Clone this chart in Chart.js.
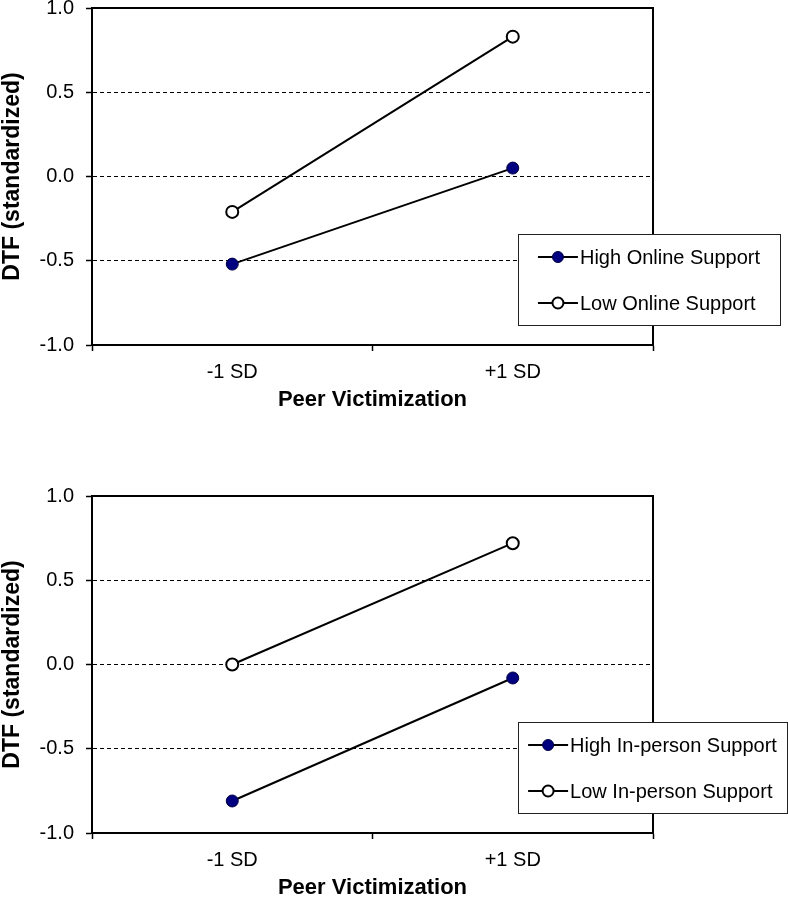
<!DOCTYPE html>
<html>
<head>
<meta charset="utf-8">
<script src="https://cdn.jsdelivr.net/npm/chart.js@4.4.0/dist/chart.umd.min.js"></script>
<style>
  body { margin: 0; background: #fff; width: 788px; height: 897px; overflow: hidden; position: relative; }
  .wrap { position: absolute; left: 0; width: 788px; height: 409px; }
</style>
</head>
<body>
<div class="wrap" style="top:0"><canvas id="onlineChart"></canvas></div>
<div class="wrap" style="top:488px"><canvas id="inPersonChart"></canvas></div>
<script>
// x categories and series values (DTF, standardized)
const categories = ['-1 SD', '+1 SD'];
const highOnline = [-0.52, 0.05];
const lowOnline = [-0.21, 0.83];
const highInPerson = [-0.81, -0.08];
const lowInPerson = [0.0, 0.72];

const FONT = "'Liberation Sans', Arial, sans-serif";

// Box around the plot area (top and right edges included)
const frame = {
  id: 'frame',
  beforeDatasetsDraw(chart) {
    const { ctx, chartArea: a } = chart;
    ctx.save();
    ctx.strokeStyle = '#000';
    ctx.lineWidth = 2;
    ctx.strokeRect(a.left, a.top, a.right - a.left, a.bottom - a.top);
    ctx.restore();
  }
};

// Legend box drawn over the right edge of the plot
const boxLegend = {
  id: 'boxLegend',
  afterDraw(chart, args, opts) {
    const { ctx } = chart;
    const sets = chart.data.datasets;
    ctx.save();
    ctx.font = '20px ' + FONT;
    const textW = Math.max(...sets.map(d => ctx.measureText(d.label).width));
    const contentW = 40 + 2 + textW;
    const x0 = opts.x + (opts.w - contentW) / 2;
    ctx.fillStyle = '#fff';
    ctx.fillRect(opts.x, opts.y, opts.w, opts.h);
    ctx.strokeStyle = '#222';
    ctx.lineWidth = 1;
    ctx.strokeRect(opts.x + 0.5, opts.y + 0.5, opts.w, opts.h);
    sets.forEach((d, i) => {
      const cy = opts.y + opts.rows[i];
      ctx.strokeStyle = '#000';
      ctx.lineWidth = 2;
      ctx.beginPath();
      ctx.moveTo(x0, cy);
      ctx.lineTo(x0 + 40, cy);
      ctx.stroke();
      ctx.beginPath();
      ctx.arc(x0 + 20, cy, 5.5, 0, Math.PI * 2);
      ctx.fillStyle = d.pointBackgroundColor;
      ctx.fill();
      ctx.lineWidth = d.pointBorderWidth;
      ctx.strokeStyle = d.pointBorderColor;
      ctx.stroke();
      ctx.fillStyle = '#000';
      ctx.textBaseline = 'middle';
      ctx.textAlign = 'left';
      ctx.fillText(d.label, x0 + 42, cy + 1);
    });
    ctx.restore();
  }
};

function series(label, data, high) {
  return {
    label,
    data,
    borderColor: '#000',
    borderWidth: 2,
    pointRadius: 6,
    pointHoverRadius: 6,
    pointBackgroundColor: high ? '#000080' : '#fff',
    pointBorderColor: high ? '#000040' : '#000',
    pointBorderWidth: high ? 1 : 2,
    tension: 0
  };
}

function makeChart(id, sets, legendW) {
  return new Chart(document.getElementById(id), {
    type: 'line',
    data: { labels: categories, datasets: sets },
    plugins: [frame, boxLegend],
    options: {
      responsive: true,
      maintainAspectRatio: false,
      animation: false,
      layout: { padding: { top: 8, right: 135, left: 0, bottom: 0 } },
      plugins: {
        legend: { display: false },
        tooltip: { enabled: false },
        boxLegend: { x: 518, y: 234, w: legendW, h: 91, rows: [23, 69] }
      },
      scales: {
        x: {
          offset: true,
          afterFit(s) { s.height = 64; s.paddingLeft = 0; s.paddingRight = 0; },
          grid: {
            offset: true,
            drawOnChartArea: false,
            tickLength: 6,
            tickColor: '#000',
            tickWidth: 1.5
          },
          border: { color: '#000', width: 2 },
          ticks: { color: '#000', padding: 9, font: { family: FONT, size: 20 } },
          title: {
            display: true,
            text: 'Peer Victimization',
            color: '#000',
            font: { family: FONT, size: 22, weight: 'bold', lineHeight: 1 },
            padding: { top: 0, bottom: -2 }
          }
        },
        y: {
          min: -1,
          max: 1,
          afterFit(s) { s.width = 92; s.paddingTop = 0; s.paddingBottom = 0; },
          grid: {
            color: c => (c.tick && Math.abs(c.tick.value) === 1) ? 'rgba(0,0,0,0)' : '#000',
            lineWidth: 1,
            tickLength: 6,
            tickColor: '#000',
            tickWidth: 1.5,
            tickBorderDash: []
          },
          border: { color: '#000', width: 2, dash: [4, 3] },
          ticks: {
            stepSize: 0.5,
            color: '#000',
            padding: 12,
            font: { family: FONT, size: 20 },
            callback: v => v.toFixed(1)
          },
          title: {
            display: true,
            text: 'DTF (standardized)',
            color: '#000',
            font: { family: FONT, size: 23, weight: 'bold', lineHeight: 1 },
            padding: { top: 1, bottom: 0 }
          }
        }
      }
    }
  });
}

makeChart('onlineChart', [
  series('High Online Support', highOnline, true),
  series('Low Online Support', lowOnline, false)
], 262);

makeChart('inPersonChart', [
  series('High In-person Support', highInPerson, true),
  series('Low In-person Support', lowInPerson, false)
], 269);
</script>
</body>
</html>
